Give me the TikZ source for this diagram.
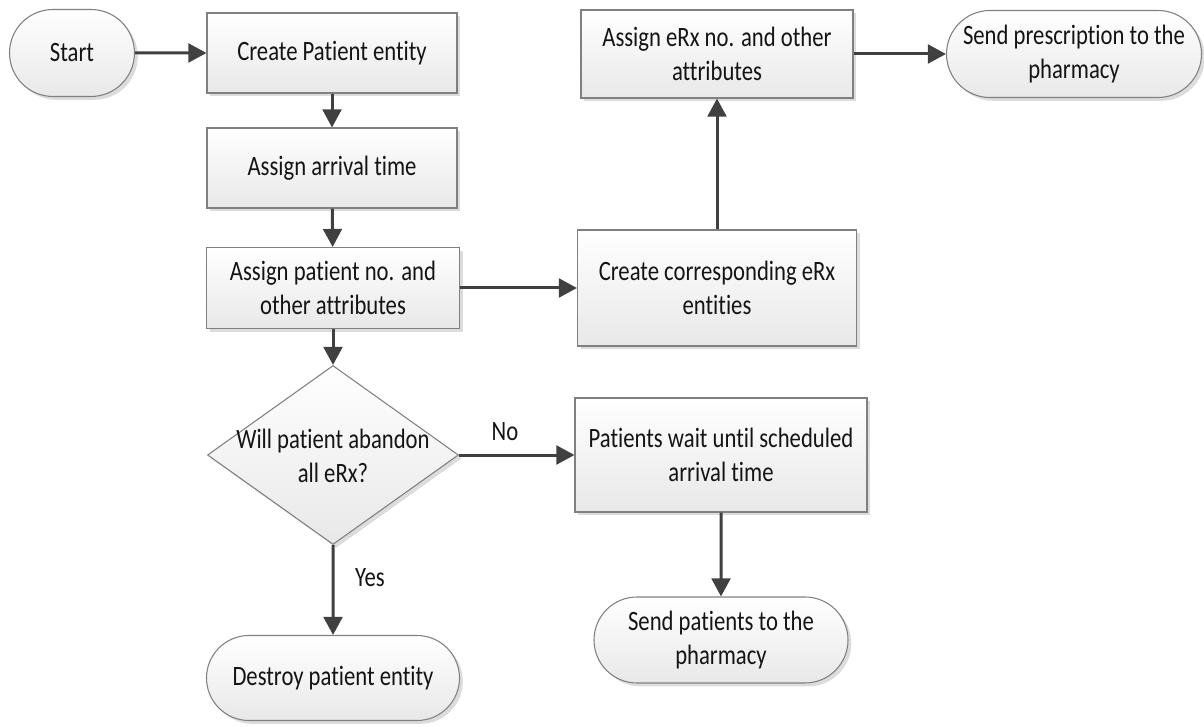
\documentclass[tikz,border=0pt]{standalone}
\usepackage{fontspec}
\newfontfamily\flowfont[FakeStretch=0.81,Ligatures=NoCommon]{Carlito}
\usetikzlibrary{shapes.geometric,shapes.misc,shadows,arrows.meta}

\begin{document}
\begin{tikzpicture}[x=0.75pt,y=-0.75pt,
  every node/.style={font=\flowfont\fontsize{21}{26}\selectfont, text=black!92},
  shapebase/.style={draw=black!50, line width=0.8pt, top color=white, bottom color=black!9,
    drop shadow={shadow xshift=2.5pt,shadow yshift=-2.5pt,fill=black!25,opacity=0.55},
    align=center, inner sep=0pt},
  procbox/.style={shapebase, rectangle},
  termbox/.style={shapebase, rounded rectangle},
  decbox/.style={shapebase, diamond},
  flow/.style={draw=black!75, line width=2.25pt, -{Triangle[length=13.5pt,width=14pt]}},
  lbl/.style={inner sep=1pt}
]
\useasboundingbox (0,0) rectangle (1204,727);

% left column
\node[termbox, minimum width=93.75pt, minimum height=65.25pt] (start) at (72,53) {Start};
\node[procbox, minimum width=187.5pt, minimum height=60pt] (create) at (332,53) {Create Patient entity};
\node[procbox, minimum width=187.5pt, minimum height=60pt] (arrival) at (332,168) {Assign arrival time};
\node[procbox, minimum width=189.75pt, minimum height=60.75pt] (assignp) at (333,288) {Assign patient no. and\\other attributes};
\node[decbox, minimum width=188.25pt, minimum height=134.25pt] (dec) at (333,455) {};
\node (dectext) at (333,456) [align=center] {Will patient abandon\\all eRx?};
\node[termbox, minimum width=189.75pt, minimum height=63.75pt] (destroy) at (333,678) {Destroy patient entity};

% prescription branch
\node[procbox, minimum width=209.25pt, minimum height=87pt] (createrx) at (717,288) {Create corresponding eRx\\entities};
\node[procbox, minimum width=204pt, minimum height=66pt] (assignrx) at (717,54) {Assign eRx no. and other\\attributes};
\node[termbox, minimum width=191.25pt, minimum height=65.25pt] (sendrx) at (1074,54) {Send prescription to the\\pharmacy};

% waiting branch
\node[procbox, minimum width=219pt, minimum height=85.5pt] (wait) at (721,455) {Patients wait until scheduled\\arrival time};
\node[termbox, minimum width=190.5pt, minimum height=64.5pt] (sendp) at (721,640) {Send patients to the\\pharmacy};

% connectors
\draw[flow] (start) -- (create);
\draw[flow] (create) -- (arrival);
\draw[flow] (arrival) -- (assignp);
\draw[flow] (assignp) -- (dec);
\draw[flow] (assignp) -- (createrx);
\draw[flow] (createrx) -- (assignrx);
\draw[flow] (assignrx) -- (sendrx);
\draw[flow] (dec) -- (wait);
\draw[flow] (dec) -- (destroy);
\draw[flow] (wait) -- (sendp);

\node[lbl] (nolabel) at (505,432) {No};
\node[lbl] (yeslabel) at (370,578) {Yes};
\end{tikzpicture}
\end{document}
